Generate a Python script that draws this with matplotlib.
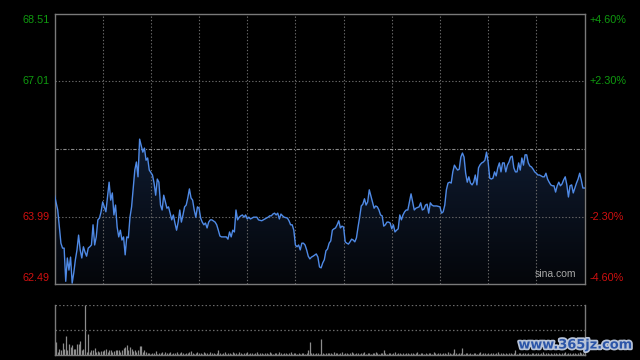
import numpy as np
import matplotlib
matplotlib.use("Agg")
import matplotlib.pyplot as plt
from matplotlib.colors import LinearSegmentedColormap
import matplotlib.patheffects as pe

# ---- data ----
prev_close = 65.50
price_ticks = [62.49, 63.99, 65.50, 67.01, 68.51]
left_labels = ["62.49", "63.99", "", "67.01", "68.51"]
right_labels = ["-4.60%", "-2.30%", "", "+2.30%", "+4.60%"]

minutes = [0,2,3,4,5,6,7,8,9,10,11,12,13,14,15,16,17,18,19,20,
           21,22,23,24,25,26,27,28,29,30,31,32,34,35,36,37,38,39,40,41,
           42,43,44,45,46,47,48,50,51,52,53,55,56,57,58,59,61,62,63,64,
           65,66,67,68,69,70,71,72,73,74,75,76,77,78,79,80,81,82,83,84,
           85,86,87,88,89,90,91,92,93,94,95,96,97,98,100,101,102,103,104,106,
           107,108,109,110,111,112,113,114,115,116,117,118,119,120,121,122,124,126,127,129,
           130,132,133,134,135,136,137,138,139,140,141,142,143,145,146,147,148,149,150,151,
           152,153,154,155,156,157,158,159,160,161,163,164,165,166,167,168,169,170,171,172,
           173,174,175,176,177,178,179,180,181,182,183,184,185,186,187,188,189,190,191,192,
           193,194,195,196,198,199,200,201,202,203,204,205,206,207,208,209,210,211,212,213,
           214,215,216,217,218,219,220,221,222,223,224,225,227,228,229,230,231,232,233,234,
           235,236,238,240,241,242,243,244,245,246,247,248,249,250,251,252,253,254,255,256,
           257,258,259,260,261,262,263,264,265,266,267,268,269,270,271,272,273,274,275,276,
           277,278,279,280,281,282,283,284,285,286,287,288,289,290,291,292,293,294,295,296,
           297,298,299,300,301,302,303,304,305,306,307,308,309,310,311,312,313,314,315,316,
           317,318,319,320,321,322,323,324,325,326,327,328,329,330]

prices = [64.47,64.14,63.76,63.40,63.29,63.29,62.55,63.07,62.80,63.09,62.51,62.74,63.03,63.25,63.58,63.25,63.07,63.32,63.20,63.11,
          63.29,63.32,63.36,63.81,63.36,63.54,63.92,63.96,64.10,64.32,64.21,64.10,64.76,64.36,64.52,64.03,64.25,63.76,63.54,63.69,
          63.47,63.54,63.14,63.54,63.52,63.98,64.21,65.03,65.21,64.88,65.72,65.43,65.52,65.25,65.30,65.03,64.92,64.74,64.47,64.83,
          64.76,64.25,64.14,64.47,64.32,64.18,64.21,64.07,63.92,64.03,63.85,63.69,63.87,64.14,63.87,64.03,64.21,64.25,64.41,64.61,
          64.41,64.36,64.14,63.98,64.21,64.18,63.96,63.87,63.81,63.85,63.74,63.87,63.92,63.92,63.87,63.81,63.69,63.56,63.54,63.54,
          63.54,63.49,63.65,63.54,63.69,63.65,64.14,63.92,63.98,64.01,64.03,63.98,64.03,63.94,63.98,63.94,63.98,63.98,63.92,63.90,
          63.92,63.96,63.98,64.01,64.01,64.05,64.07,64.03,64.07,63.94,64.05,64.01,63.98,63.96,63.90,63.81,63.81,63.69,63.36,63.32,
          63.36,63.25,63.40,63.40,63.36,63.25,63.11,63.05,63.09,63.11,63.16,63.09,62.87,62.85,62.96,63.03,63.23,63.27,63.40,63.45,
          63.69,63.72,63.74,63.81,63.90,63.74,63.78,63.76,63.43,63.40,63.38,63.43,63.49,63.47,63.43,63.52,63.76,63.98,64.23,64.27,
          64.39,64.25,64.32,64.59,64.32,64.18,64.23,64.21,64.14,64.03,64.01,63.78,63.81,63.87,63.87,63.85,63.72,63.81,63.65,63.69,
          63.72,64.03,63.92,64.03,64.10,64.14,64.14,64.32,64.50,64.32,64.14,64.18,64.21,64.30,64.14,64.16,64.25,64.27,64.07,64.30,
          64.25,64.23,64.23,64.21,64.07,64.10,64.25,64.59,64.74,64.76,64.74,64.99,65.14,65.08,65.03,65.05,65.32,65.41,65.32,64.96,
          64.76,64.88,64.74,64.70,64.76,64.92,64.70,65.08,65.15,65.19,65.21,65.25,65.43,65.21,64.85,64.83,64.85,64.99,64.90,65.08,
          65.19,64.99,65.19,65.19,64.99,65.14,65.21,65.32,65.34,65.08,64.99,64.99,65.19,65.03,65.30,65.14,65.37,65.37,65.19,65.12,
          65.10,65.05,64.99,64.96,64.92,64.92,64.90,64.88,64.88,64.96,64.83,64.76,64.70,64.68,64.68,64.54,64.68,64.76,64.68,64.72,
          64.81,64.88,64.70,64.43,64.68,64.70,64.52,64.63,64.74,64.83,64.96,64.81,64.63,64.63]

volumes = [23,27,7,13,10,25,13,38,10,22,17,20,13,13,23,22,28,10,13,100,7,
           43,7,10,11,15,7,9,7,9,9,10,13,7,11,10,7,8,11,11,10,
           7,11,15,17,20,10,17,13,9,10,7,11,18,18,7,11,7,5,4,3,4,5,9,3,
           5,4,6,3,7,5,4,6,3,5,4,7,3,5,6,4,3,5,4,6,9,5,3,4,6,4,5,3,7,4,5,3,6,4,5,3,
           4,10,5,3,4,6,3,5,4,3,6,4,5,3,7,4,3,5,4,6,3,4,5,3,4,6,3,5,4,3,
           4,5,3,6,4,3,5,4,3,6,4,3,5,4,3,4,6,3,4,5,3,4,3,5,4,3,
           4,10,27,5,4,3,4,5,3,32,4,3,5,4,
           5,4,3,6,4,5,3,4,6,3,
           4,5,3,4,6,4,3,5,4,3,
           5,4,6,3,4,5,3,4,5,6,
           4,3,5,4,10,4,3,5,4,3,
           4,6,3,4,5,3,4,3,5,4,
           3,4,5,3,4,6,3,4,5,3,
           4,3,5,4,3,6,4,3,4,5,
           3,4,5,3,6,4,3,5,12,4,
           3,5,4,14,3,4,5,3,4,3,
           5,4,3,4,6,3,4,5,3,4,
           3,5,4,3,4,6,3,4,5,3,
           4,3,5,4,3,4,10,3,4,5,
           3,4,5,3,4,3,5,4,3,4,
           5,3,4,6,3,4,5,3,4,3,
           4,5,3,4,3,5,4,6,3,4,
           5,3,4,5,3,4,6,4,5,8]

assert len(minutes) == len(prices)

# ---- figure ----
W, H = 640, 360
fig = plt.figure(figsize=(6.4, 3.6), dpi=100, facecolor="black")
ax = fig.add_axes([54.5 / W, (H - 284) / H, 530 / W, 270 / H], facecolor="black")
axv = fig.add_axes([54.5 / W, (H - 355) / H, 530 / W, 50 / H], facecolor="black")

ymin, ymax = price_ticks[0], price_ticks[-1]
grid_c = "#6a6a6a"
spine_c = "#7a7a7a"
green = "#0f9a0f"
red = "#d01010"
line_c = "#4f8ae6"

# gradient fill under line
poly = ax.fill_between(minutes, prices, ymin, facecolor="none", edgecolor="none")
cmap = LinearSegmentedColormap.from_list("g", ["#04060a", "#0f1b30"])
grad = np.linspace(0, 1, 256).reshape(-1, 1)
img = ax.imshow(grad, extent=[0, 330, ymin, max(prices)], origin="lower",
                aspect="auto", cmap=cmap, zorder=1)
img.set_clip_path(poly.get_paths()[0], transform=ax.transData)

ax.plot(minutes, prices, color=line_c, lw=1.0, zorder=3)

# grid
for t in range(30, 330, 30):
    ax.axvline(t, color=grid_c, lw=0.8, ls=(0, (1.2, 1.8)), zorder=2)
for p in price_ticks[1:-1]:
    if p == prev_close:
        ax.axhline(p, color="#8a8a8a", lw=0.8, ls=(0, (3, 1.5, 1, 1.5)), zorder=2)
    else:
        ax.axhline(p, color=grid_c, lw=0.8, ls=(0, (1.2, 1.8)), zorder=2)

ax.set_xlim(0, 330)
ax.set_ylim(ymin, ymax)
ax.set_xticks([])
ax.set_yticks([])
for s in ax.spines.values():
    s.set_color(spine_c)
    s.set_linewidth(1.0)

font = "Liberation Sans"
offsets = {0: 0.14, 4: -0.14}
for i, (p, ll, rl) in enumerate(zip(price_ticks, left_labels, right_labels)):
    if not ll:
        continue
    c = red if p < prev_close else green
    yy = p + offsets.get(i, 0)
    ax.text(-0.009, yy, ll, transform=ax.get_yaxis_transform(), ha="right",
            va="center", color=c, fontsize=7.8, family=font)
    ax.text(1.01, yy, rl, transform=ax.get_yaxis_transform(), ha="left",
            va="center", color=c, fontsize=7.8, family=font)

ax.text(0.985, 0.02, "sina.com", transform=ax.transAxes, ha="right", va="bottom",
        color="#a8a8a8", fontsize=7.5, family=font, zorder=4)

# volume panel
vmax = max(volumes)
axv.vlines(np.arange(len(volumes)), 0, volumes, color="#8c8c8c", lw=0.9)
axv.set_xlim(0, 330)
axv.set_ylim(0, vmax)
axv.axhline(vmax, color=grid_c, lw=0.9, ls=(0, (1.2, 1.8)))
axv.axhline(vmax / 2, color=grid_c, lw=0.9, ls=(0, (1.2, 1.8)))
axv.set_xticks([])
axv.set_yticks([])
axv.spines["top"].set_visible(False)
for k in ["left", "right", "bottom"]:
    axv.spines[k].set_color(spine_c)
    axv.spines[k].set_linewidth(1.0)

fig.text(575 / W, 1 - 345 / H, "www.365jz.com", ha="center", va="center",
         color="#2b55a8", fontsize=9.3, fontweight="bold", family="DejaVu Sans",
         path_effects=[pe.withStroke(linewidth=2.5, foreground="#b8c4d8")])

fig.savefig("out.png", dpi=100, facecolor="black")
